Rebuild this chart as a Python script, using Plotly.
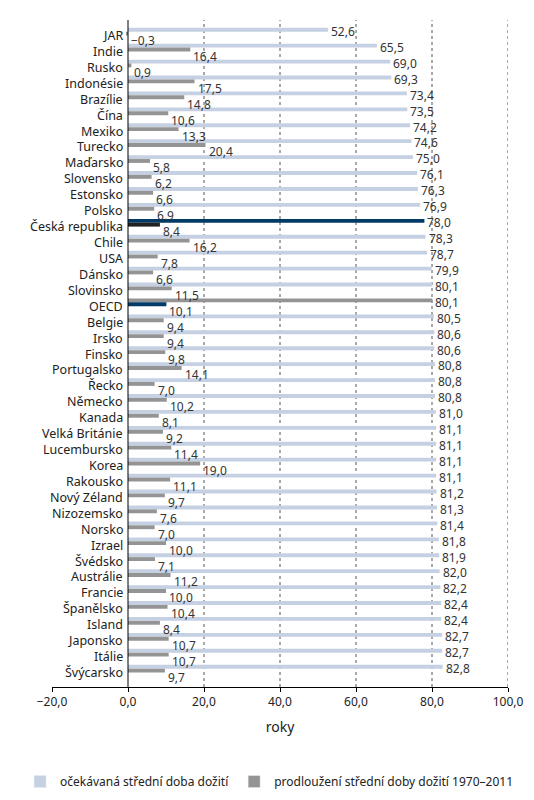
import plotly.graph_objects as go

countries = ["JAR","Indie","Rusko","Indonésie","Brazílie","Čína","Mexiko","Turecko","Maďarsko","Slovensko",
 "Estonsko","Polsko","Česká republika","Chile","USA","Dánsko","Slovinsko","OECD","Belgie","Irsko","Finsko",
 "Portugalsko","Řecko","Německo","Kanada","Velká Británie","Lucembursko","Korea","Rakousko","Nový Zéland",
 "Nizozemsko","Norsko","Izrael","Švédsko","Austrálie","Francie","Španělsko","Island","Japonsko","Itálie","Švýcarsko"]
life = [52.6,65.5,69.0,69.3,73.4,73.5,74.2,74.6,75.0,76.1,76.3,76.9,78.0,78.3,78.7,79.9,80.1,80.1,80.5,80.6,80.6,
 80.8,80.8,80.8,81.0,81.1,81.1,81.1,81.1,81.2,81.3,81.4,81.8,81.9,82.0,82.2,82.4,82.4,82.7,82.7,82.8]
gain = [-0.3,16.4,0.9,17.5,14.8,10.6,13.3,20.4,5.8,6.2,6.6,6.9,8.4,16.2,7.8,6.6,11.5,10.1,9.4,9.4,9.8,
 14.1,7.0,10.2,8.1,9.2,11.4,19.0,11.1,9.7,7.6,7.0,10.0,7.1,11.2,10.0,10.4,8.4,10.7,10.7,9.7]
ticks = [-20,0,20,40,60,80,100]

def fmt(v):
    s = f"{abs(v):.1f}".replace(".", ",")
    return ("\u2212" + s) if v < 0 else s

c1 = ["#003a66" if c=="Česká republika" else "#949494" if c=="OECD" else "#c5d0e3" for c in countries]
c2 = ["#222222" if c=="Česká republika" else "#003a66" if c=="OECD" else "#949494" for c in countries]

fig = go.Figure()
fig.add_trace(go.Bar(y=countries, x=life, orientation="h", marker_color=c1, marker_line_width=0,
                     name="očekávaná střední doba dožití", showlegend=False))
fig.add_trace(go.Bar(y=countries, x=gain, orientation="h", marker_color=c2, marker_line_width=0,
                     name="prodloužení střední doby dožití 1970–2011", showlegend=False))
fig.add_trace(go.Bar(y=[None], x=[None], orientation="h", marker_color="#c5d0e3", name="očekávaná střední doba dožití"))
fig.add_trace(go.Bar(y=[None], x=[None], orientation="h", marker_color="#949494", name="prodloužení střední doby dožití 1970–2011"))

ann = []
for c, a, b in zip(countries, life, gain):
    ann.append(dict(x=a, y=c, text=fmt(a), xanchor="left", yshift=4, showarrow=False,
                    font=dict(size=12, color="#333"), xshift=1))
    ann.append(dict(x=max(b, 0), y=c, text=fmt(b), xanchor="left", yshift=-5, showarrow=False,
                    font=dict(size=12, color="#333"), xshift=1))
    ann.append(dict(x=0, y=c, text=c, xanchor="right", showarrow=False, xshift=-3,
                    font=dict(size=12.5, color="#222")))

shapes = [dict(type="line", x0=t, x1=t, y0=0, y1=1, yref="paper", line=dict(color="#555", width=1, dash="dot"), layer="below")
          for t in ticks if t > 0]
shapes.append(dict(type="line", x0=0, x1=0, y0=0, y1=1, yref="paper", line=dict(color="#000", width=1)))

fig.update_layout(
    width=534, height=800, barmode="group", bargap=0.03, bargroupgap=0,
    margin=dict(l=38, r=34, t=12, b=92),
    plot_bgcolor="white", paper_bgcolor="white",
    font=dict(family="Noto Sans", size=12, color="#222"),
    annotations=ann, shapes=shapes,
    xaxis=dict(range=[-20, 100], tickvals=ticks, ticktext=[fmt(t) for t in ticks], showgrid=False, zeroline=False,
               showline=True, linecolor="#000", ticks="outside", ticklen=4, tickcolor="#000",
               title=dict(text="roky", standoff=12)),
    yaxis=dict(autorange="reversed", showticklabels=False, showgrid=False, zeroline=False),
    legend=dict(orientation="h", x=-0.07, y=-0.12, xanchor="left", yanchor="top", font=dict(size=12)),
)
fig.write_html("out.html")
